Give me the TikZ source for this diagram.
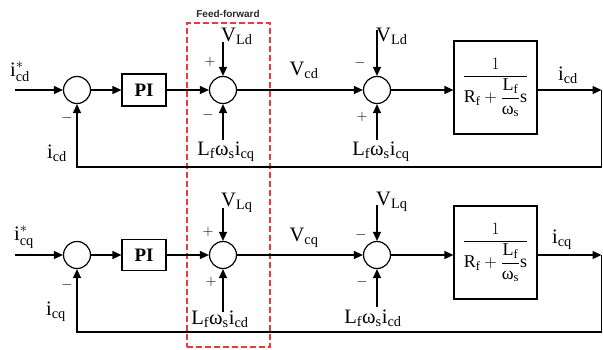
\documentclass[tikz,border=0pt]{standalone}
\usepackage{amsmath}
\usepackage{fontspec}
\setmainfont{Liberation Serif}
\newfontfamily\ffsans{Liberation Sans}
\usetikzlibrary{arrows.meta}

\definecolor{ffred}{RGB}{232,60,60}
\definecolor{fftext}{RGB}{40,40,40}

% labels with upright subscripts
\newcommand{\vsub}[2]{$\text{#1}_{\text{#2}}$}
\newcommand{\cross}[1]{$\text{L}_{\text{f}}\text{ω}_{\text{s}}\text{i}_{\text{c#1}}$}
\newcommand{\plant}{$\displaystyle\frac{1}{\text{R}_{\text{f}}+\dfrac{\text{L}_{\text{f}}}{\text{ω}_{\text{s}}}\text{s}}$}

\tikzset{
    sumnode/.style={draw, circle, line width=1.2pt, minimum size=27pt, inner sep=0pt},
    blockbox/.style={draw, line width=1.2pt, inner sep=0pt},
    sig/.style={line width=1.3pt, -{Triangle[length=9pt,width=8pt]}},
    lbl/.style={font=\fontsize{20.5}{22}\selectfont, inner sep=0pt},
    sgn/.style={font=\fontsize{15}{17}\selectfont, inner sep=0pt},
    ffbox/.style={draw=ffred, line width=1.4pt, dash pattern=on 6pt off 3pt}
}

\begin{document}
\begin{tikzpicture}[x=1pt, y=-1pt]
    \useasboundingbox (0,0) rectangle (603,349);

    % Feed-forward frame
    \node[ffbox, minimum width=83pt, minimum height=324pt] (ff) at (228.5,185) {};
    \node[font=\ffsans\bfseries\fontsize{10}{12}\selectfont, text=fftext, inner sep=0pt] (fflbl) at (228,14) {Feed-forward};

    % d-axis loop
    \coordinate (ind) at (15,90);
    \node[sumnode] (s1d) at (77,90) {};
    \node[blockbox, minimum width=44pt, minimum height=32pt, font=\bfseries\fontsize{19}{21}\selectfont] (pid) at (144,90) {PI};
    \node[sumnode] (s2d) at (223,90) {};
    \node[sumnode] (s3d) at (377,90) {};
    \node[blockbox, minimum width=83pt, minimum height=93pt, font=\fontsize{18}{20}\selectfont] (gd) at (495.5,87.5) {\plant};
    \coordinate (outd) at (601.5,90);
    \coordinate (fbd) at (601.5,167);
    \coordinate (vt2d) at (223,42);
    \coordinate (vb2d) at (223,140);
    \coordinate (vt3d) at (377,30);
    \coordinate (vb3d) at (377,140);

    \draw[sig] (ind) -- (s1d);
    \draw[sig] (s1d) -- (pid);
    \draw[sig] (pid) -- (s2d);
    \draw[sig] (s2d) -- (s3d);
    \draw[sig] (s3d) -- (s3d -| gd.west);
    \draw[sig] (gd.east |- outd) -- (outd);
    \draw[sig] (outd) -- (fbd) -| (s1d);
    \draw[sig] (vt2d) -- (s2d);
    \draw[sig] (vb2d) -- (s2d);
    \draw[sig] (vt3d) -- (s3d);
    \draw[sig] (vb3d) -- (s3d);

    \node[lbl] (isd) at (20,72) {$\text{i}^{*}_{\text{cd}}$};
    \node[lbl] (fbld) at (57,153) {\vsub{i}{cd}};
    \node[lbl, anchor=west] (vl2d) at (221,36) {\vsub{V}{Ld}};
    \node[lbl] (cr2d) at (226,152) {\cross{q}};
    \node[lbl] (vcd) at (304,70) {\vsub{V}{cd}};
    \node[lbl, anchor=west] (vl3d) at (376,36) {\vsub{V}{Ld}};
    \node[lbl] (cr3d) at (381,152) {\cross{q}};
    \node[lbl] (icd) at (568,75) {\vsub{i}{cd}};

    \node[sgn] at (67,118) {$-$};
    \node[sgn] at (210,62) {$+$};
    \node[sgn] at (208,115) {$-$};
    \node[sgn] at (360,63) {$-$};
    \node[sgn] at (362,117) {$+$};

    % q-axis loop
    \coordinate (inq) at (15,255);
    \node[sumnode] (s1q) at (77,255) {};
    \node[blockbox, minimum width=44pt, minimum height=31pt, font=\bfseries\fontsize{19}{21}\selectfont] (piq) at (144,255) {PI};
    \node[sumnode] (s2q) at (223,255) {};
    \node[sumnode] (s3q) at (377,255) {};
    \node[blockbox, minimum width=83pt, minimum height=93pt, font=\fontsize{18}{20}\selectfont] (gq) at (495.5,252.5) {\plant};
    \coordinate (outq) at (601.5,255);
    \coordinate (fbq) at (601.5,332);
    \coordinate (vt2q) at (223,208);
    \coordinate (vb2q) at (223,312);
    \coordinate (vt3q) at (377,205);
    \coordinate (vb3q) at (377,307);

    \draw[sig] (inq) -- (s1q);
    \draw[sig] (s1q) -- (piq);
    \draw[sig] (piq) -- (s2q);
    \draw[sig] (s2q) -- (s3q);
    \draw[sig] (s3q) -- (s3q -| gq.west);
    \draw[sig] (gq.east |- outq) -- (outq);
    \draw[sig] (outq) -- (fbq) -| (s1q);
    \draw[sig] (vt2q) -- (s2q);
    \draw[sig] (vb2q) -- (s2q);
    \draw[sig] (vt3q) -- (s3q);
    \draw[sig] (vb3q) -- (s3q);

    \node[lbl] (isq) at (24,237) {$\text{i}^{*}_{\text{cq}}$};
    \node[lbl] (fblq) at (56,312) {\vsub{i}{cq}};
    \node[lbl, anchor=west] (vl2q) at (221,203) {\vsub{V}{Lq}};
    \node[lbl] (cr2q) at (220,319) {\cross{d}};
    \node[lbl] (vcq) at (304,238) {\vsub{V}{cq}};
    \node[lbl, anchor=west] (vl3q) at (376,202) {\vsub{V}{Lq}};
    \node[lbl] (cr3q) at (373,318) {\cross{d}};
    \node[lbl] (icq) at (562,240) {\vsub{i}{cq}};

    \node[sgn] at (67,285) {$-$};
    \node[sgn] at (208,232) {$+$};
    \node[sgn] at (211,282) {$+$};
    \node[sgn] at (361,235) {$-$};
    \node[sgn] at (362,282) {$-$};
\end{tikzpicture}
\end{document}
